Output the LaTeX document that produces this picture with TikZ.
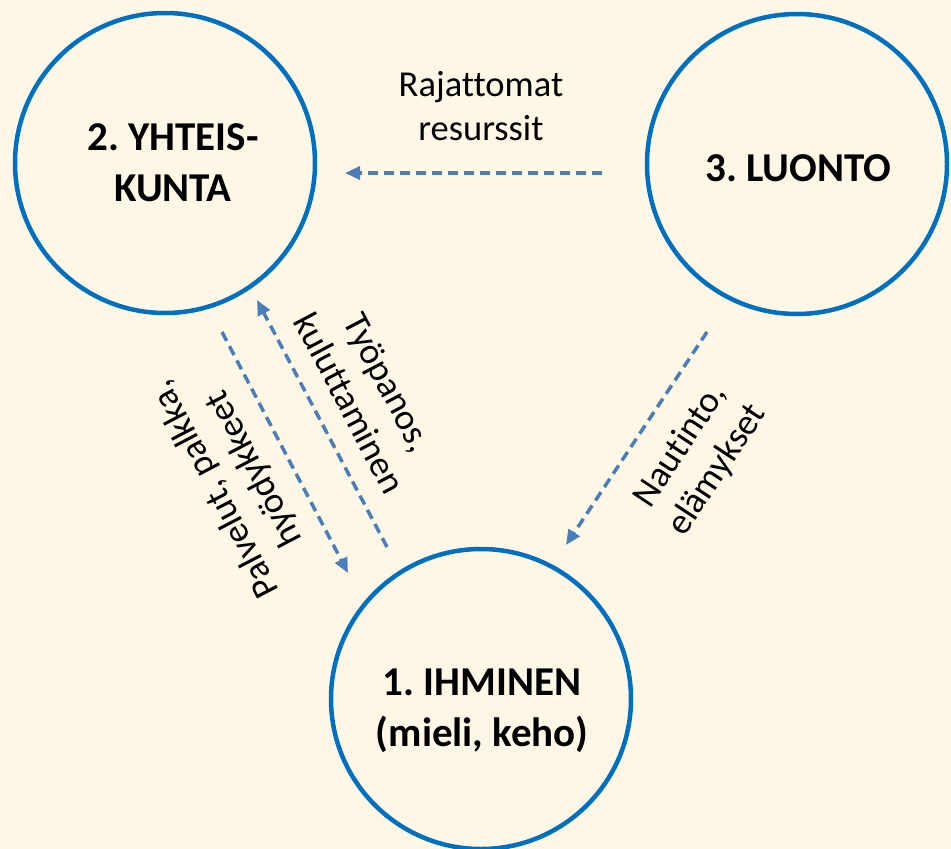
\documentclass[tikz,border=0pt]{standalone}
\usepackage{fontspec}
\setmainfont{Carlito}[Ligatures={NoCommon}]
\usetikzlibrary{arrows.meta}
\definecolor{bg}{HTML}{FFF7E6}
\definecolor{ringc}{HTML}{0070C0}
\definecolor{flowc}{HTML}{4A7EBB}
\frenchspacing
\begin{document}
\begin{tikzpicture}[x=1pt,y=-1pt,
  ring/.style={circle, draw=ringc, line width=4.5pt, minimum size=300pt, inner sep=0pt},
  title/.style={font=\fontsize{41}{51}\selectfont\bfseries, align=center, inner sep=0pt},
  lbl/.style={font=\fontsize{36.5}{44}\selectfont, align=center, inner sep=0pt},
  flowline/.style={draw=flowc, line width=3.5pt, dash pattern=on 10pt off 6pt, -{Triangle[length=15pt,width=13pt]}}
]
\useasboundingbox (0,0) rectangle (951,849);
\clip (0,0) rectangle (951,849);
\fill[bg] (0,0) rectangle (951,849);

\node[ring] (c2) at (165,163) {};
\node[ring] (c3) at (797,164) {};
\node[ring] (c1) at (481,699) {};
\node[title] (t2) at (173,162.5) {2. YHTEIS-\\KUNTA};
\node[title] (t3) at (798.5,168.5) {3. LUONTO};
\node[title] (t1) at (482,710.5) {1. IHMINEN\\(mieli, keho)};

\coordinate (rs) at (602,173); \coordinate (re) at (345,173);
\coordinate (ps) at (222,332); \coordinate (pe) at (348,573);
\coordinate (ts) at (387,547); \coordinate (te) at (257,300);
\coordinate (ns) at (707,332); \coordinate (ne) at (566,545);

\draw[flowline] (rs) -- (re);
\draw[flowline] (ps) -- (pe);
\draw[flowline] (ts) -- (te);
\draw[flowline] (ns) -- (ne);

\node[lbl] (lr) at (481,106) {Rajattomat\\resurssit};
\node[lbl, rotate=-62.2] (lt) at (369,393) {Työpanos,\\kuluttaminen};
\node[lbl, rotate=117.6] (lp) at (235,479) {Palvelut, palkka,\\hyödykkeet};
\node[lbl, rotate=56.6] (ln) at (699,458) {Nautinto,\\elämykset};
\end{tikzpicture}
\end{document}
